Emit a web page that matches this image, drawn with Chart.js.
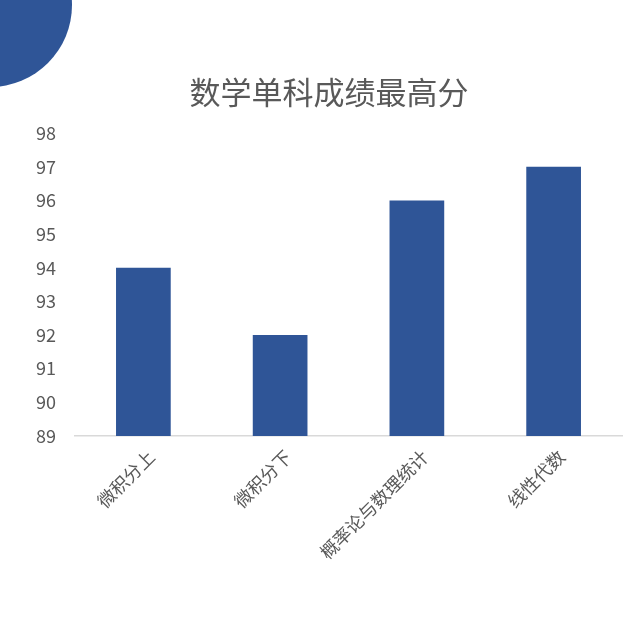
<!DOCTYPE html>
<html>
<head>
<meta charset="utf-8">
<script src="https://cdn.jsdelivr.net/npm/chart.js@4.4.0/dist/chart.umd.min.js"></script>
<style>
  html, body { margin: 0; padding: 0; background: #fff; }
  #wrap { position: relative; width: 640px; height: 640px; overflow: hidden; }
  #corner {
    position: absolute; left: -92px; top: -77px;
    width: 164px; height: 164px; border-radius: 50%;
    background: #2F5597;
  }
  canvas { position: absolute; left: 0; top: 0; }
</style>
</head>
<body>
<div id="wrap">
  <canvas id="chart" width="640" height="640"></canvas>
  <div id="corner"></div>
</div>
<script>
const title = '数学单科成绩最高分';
const subjects = ['微积分上', '微积分下', '概率论与数理统计', '线性代数'];
const topScores = [94, 92, 96, 97];
const yMin = 89;
const yMax = 98;

const textColor = '#595959';
const fontFamily = '"Noto Sans CJK SC", "Noto Sans", sans-serif';

new Chart(document.getElementById('chart'), {
  type: 'bar',
  data: {
    labels: subjects,
    datasets: [{
      data: topScores,
      backgroundColor: '#2F5597',
      borderWidth: 0,
      barPercentage: 0.8,
      categoryPercentage: 0.5,
    }],
  },
  options: {
    responsive: false,
    animation: false,
    layout: { padding: { left: 36, right: 18, top: 0, bottom: 67 } },
    plugins: {
      legend: { display: false },
      tooltip: { enabled: false },
      title: {
        display: true,
        text: title,
        color: textColor,
        font: { family: fontFamily, size: 31, weight: 'normal' },
        padding: { top: 74, bottom: 22 },
      },
    },
    scales: {
      x: {
        grid: { display: false, drawTicks: false },
        border: { display: true, color: '#D9D9D9', width: 1.5 },
        ticks: {
          color: textColor,
          font: { family: fontFamily, size: 18 },
          minRotation: 45,
          maxRotation: 45,
          padding: 10,
          labelOffset: 8,
        },
      },
      y: {
        min: yMin,
        max: yMax,
        grid: { display: false, drawTicks: false },
        border: { display: false },
        ticks: {
          stepSize: 1,
          color: textColor,
          font: { family: fontFamily, size: 18 },
          padding: 19,
        },
        // chart.js counts the tick padding twice; pin the width instead
        afterFit: (scale) => { scale.width = 39; },
      },
    },
  },
});
</script>
</body>
</html>
